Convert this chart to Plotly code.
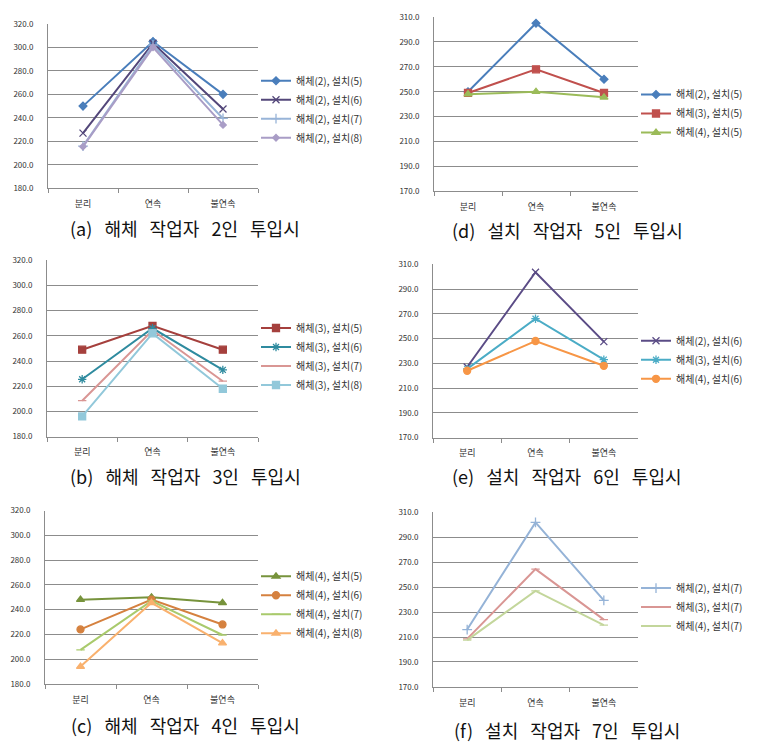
import plotly.graph_objects as go

categories = ["분리", "연속", "불연속"]

# series: 해체(n), 설치(m)
s25 = [250, 305, 260]
s26 = [227, 303.5, 247.5]
s27 = [216, 302, 239.5]
s28 = [215.5, 300, 234]
s35 = [249, 268, 249]
s36 = [225.5, 266, 233]
s37 = [208.5, 264.5, 224]
s38 = [196, 262, 218]
s45 = [248, 250, 245.5]
s46 = [224, 248, 228]
s47 = [207.5, 247, 219.5]
s48 = [194, 245.5, 213]

SP = "\u00a0\u00a0\u00a0"
captions = ["(a)" + SP + "해체" + SP + "작업자" + SP + "2인" + SP + "투입시",
            "(b)" + SP + "해체" + SP + "작업자" + SP + "3인" + SP + "투입시",
            "(c)" + SP + "해체" + SP + "작업자" + SP + "4인" + SP + "투입시",
            "(d)" + SP + "설치" + SP + "작업자" + SP + "5인" + SP + "투입시",
            "(e)" + SP + "설치" + SP + "작업자" + SP + "6인" + SP + "투입시",
            "(f)" + SP + "설치" + SP + "작업자" + SP + "7인" + SP + "투입시"]

# page body has an 8px margin; size the figure so the page fits the window
OFF = 8
W, H = 765 - 2 * OFF, 756 - 2 * OFF
FONT = "Noto Sans CJK KR, DejaVu Sans, sans-serif"


def px(x):
    return (x - OFF) / W


def py(y):
    return 1 - (y - OFF) / H


panels = [
    dict(box=(48, 258, 18, 185), yr=(180, 320), leg=(256, 61), cap=(185, 225), gap=2),
    dict(box=(47, 258, 258, 437), yr=(180, 320), leg=(256, 312), cap=(185, 477), gap=2),
    dict(box=(45, 258, 512, 688), yr=(180, 320), leg=(256, 564), cap=(185, 730), gap=2),
    dict(box=(434, 638, 11, 188), yr=(170, 310), leg=(636, 75), cap=(567, 227), gap=0),
    dict(box=(433, 638, 262, 438), yr=(170, 310), leg=(636, 325), cap=(567, 477), gap=0),
    dict(box=(433, 638, 514, 691), yr=(170, 310), leg=(636, 576), cap=(567, 735), gap=0),
]

series = [
    [("해체(2), 설치(5)", s25, "#4A7EBB", "diamond", 6),
     ("해체(2), 설치(6)", s26, "#53477A", "x-thin-open", 7),
     ("해체(2), 설치(7)", s27, "#98B4D8", "cross-thin-open", 7),
     ("해체(2), 설치(8)", s28, "#A99DC6", "diamond", 5)],
    [("해체(3), 설치(5)", s35, "#A5403D", "square", 7),
     ("해체(3), 설치(6)", s36, "#2F8B9F", "asterisk-open", 7),
     ("해체(3), 설치(7)", s37, "#D99694", "line-ew-open", 6),
     ("해체(3), 설치(8)", s38, "#92C8DA", "square", 7)],
    [("해체(4), 설치(5)", s45, "#77933C", "triangle-up", 7),
     ("해체(4), 설치(6)", s46, "#D5813F", "circle", 7),
     ("해체(4), 설치(7)", s47, "#A9CA6C", "line-ew-open", 6),
     ("해체(4), 설치(8)", s48, "#F9B16E", "triangle-up", 7)],
    [("해체(2), 설치(5)", s25, "#4A7EBB", "diamond", 6),
     ("해체(3), 설치(5)", s35, "#C0504D", "square", 7),
     ("해체(4), 설치(5)", s45, "#9BBB59", "triangle-up", 7)],
    [("해체(2), 설치(6)", s26, "#5B4C86", "x-thin-open", 7),
     ("해체(3), 설치(6)", s36, "#4BACC6", "asterisk-open", 7),
     ("해체(4), 설치(6)", s46, "#F79646", "circle", 7)],
    [("해체(2), 설치(7)", s27, "#95B3D7", "cross-thin-open", 7),
     ("해체(3), 설치(7)", s37, "#D99694", "line-ew-open", 6),
     ("해체(4), 설치(7)", s47, "#C3D69B", "line-ew-open", 6)],
]

fig = go.Figure()
layout = dict(width=W, height=H, margin=dict(l=0, r=0, t=0, b=0),
              paper_bgcolor="white", plot_bgcolor="white",
              font=dict(family=FONT, color="#222"), annotations=[])

for i, (p, sers) in enumerate(zip(panels, series)):
    k = "" if i == 0 else str(i + 1)
    x0, x1, y0, y1 = p["box"]
    lname = "legend" + k
    for name, vals, col, sym, sz in sers:
        fig.add_trace(go.Scatter(
            x=categories, y=vals, name=name, mode="lines+markers",
            line=dict(color=col, width=2),
            marker=dict(symbol=sym, size=sz, color=col, line=dict(color=col, width=1.3)),
            xaxis="x" + k, yaxis="y" + k, legend=lname))
    layout["xaxis" + k] = dict(
        domain=[px(x0), px(x1)], anchor="y" + k, type="category",
        range=[-0.5, 2.5], showgrid=False, showline=True, linecolor="#8c8c8c", linewidth=1,
        ticks="outside", tickson="boundaries", ticklen=4, tickcolor="#8c8c8c",
        ticklabelstandoff=7,
        tickfont=dict(size=9, color="#333"), fixedrange=True)
    layout["yaxis" + k] = dict(
        domain=[py(y1), py(y0)], anchor="x" + k,
        range=[p["yr"][0], p["yr"][1] + 0.01], dtick=20, tick0=p["yr"][0], tickformat=".1f",
        showgrid=True, gridcolor="#8c8c8c", gridwidth=1, zeroline=False,
        showline=True, linecolor="#8c8c8c", linewidth=1,
        ticks="outside", ticklen=12, tickcolor="rgba(255,255,255,0)",
        tickfont=dict(size=8, color="#333"), fixedrange=True)
    lx, ly = p["leg"]
    layout[lname] = dict(x=px(lx), y=py(ly), xanchor="left", yanchor="top",
                         bgcolor="rgba(0,0,0,0)", font=dict(size=10, color="#333"),
                         itemwidth=30, tracegroupgap=p["gap"], traceorder="normal")
    cx, cy = p["cap"]
    layout["annotations"].append(dict(
        text=captions[i], x=px(cx), y=py(cy), xref="paper", yref="paper",
        xanchor="center", yanchor="middle", showarrow=False,
        font=dict(size=18, color="#111", family=FONT)))

fig.update_layout(**layout)
fig.write_html("out.html")
